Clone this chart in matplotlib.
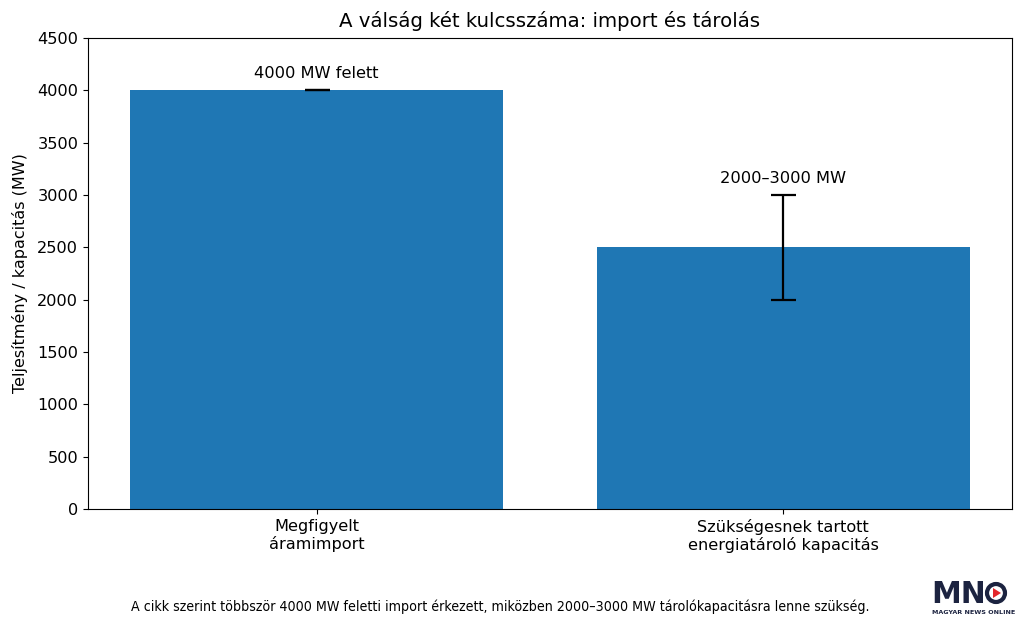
import matplotlib.pyplot as plt
from matplotlib.patches import Circle, Polygon

# Data
categories = ['Megfigyelt\náramimport', 'Szükségesnek tartott\nenergiatároló kapacitás']
values = [4000, 2500]
err_low = [0, 500]
err_high = [0, 500]
bar_labels = ['4000 MW felett', '2000–3000 MW']

plt.rcParams['font.family'] = ['DejaVu Sans']

fig = plt.figure(figsize=(10.24, 6.26), dpi=100)
ax = fig.add_axes([0.086, 0.187, 0.902, 0.752])

x = range(len(categories))
ax.bar(x, values, width=0.8, color='#1f77b4',
       yerr=[err_low, err_high], capsize=9,
       error_kw={'elinewidth': 1.6, 'capthick': 1.6, 'ecolor': 'black'})

# labels above the bars / error bars
for i in x:
    top = values[i] + err_high[i]
    ax.text(i, top + 90, bar_labels[i], ha='center', va='bottom', fontsize=11.7)

ax.set_ylim(0, 4500)
ax.set_xticks(list(x))
ax.set_xticklabels(categories, fontsize=11.6)
ax.tick_params(axis='y', labelsize=11.6)
ax.set_ylabel('Teljesítmény / kapacitás (MW)', fontsize=11.5, labelpad=7)
ax.set_title('A válság két kulcsszáma: import és tárolás', fontsize=14.2, pad=8)

# footer note
fig.text(0.489, 0.031, 'A cikk szerint többször 4000 MW feletti import érkezett, '
         'miközben 2000–3000 MW tárolókapacitásra lenne szükség.',
         ha='center', va='center', fontsize=10.2, stretch='condensed')

# MNO logo
navy = '#1c2340'
fig.text(931 / 1024, 23 / 626, 'MN', fontsize=21.5, fontweight='bold', color=navy,
         ha='left', va='baseline')
cx, cy = 996, 33
circ = Circle((cx, cy), 9, transform=None, fill=False,
              edgecolor=navy, linewidth=3)
fig.patches.append(circ)
tri = Polygon([(cx - 3, cy + 5), (cx - 3, cy - 5), (cx + 5, cy)], closed=True,
              transform=None, facecolor='#e3262b', edgecolor='none')
fig.patches.append(tri)
fig.text(932 / 1024, 14 / 626, 'MAGYAR NEWS ONLINE', fontsize=4.6, fontweight='bold',
         color=navy, ha='left', va='center')

fig.savefig('out.png', dpi=100)
